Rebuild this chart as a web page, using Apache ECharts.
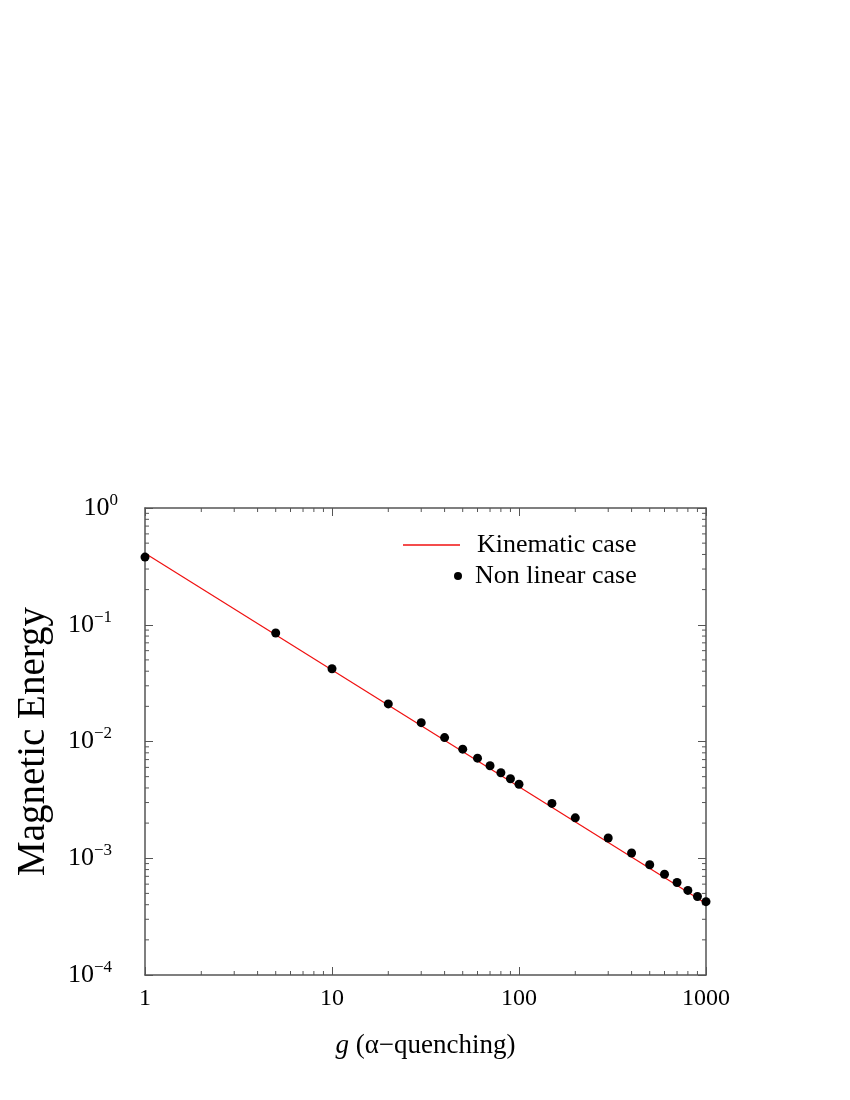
<!DOCTYPE html>
<html>
<head>
<meta charset="utf-8">
<script src="https://cdn.jsdelivr.net/npm/echarts@6/dist/echarts.min.js"></script>
<style>
  html, body { margin: 0; padding: 0; background: #fff; }
  #chart { width: 850px; height: 1100px; }
</style>
</head>
<body>
<div id="chart"></div>
<script>
  // values
  const gValues = [1, 5, 10, 20, 30, 40, 50, 60, 70, 80, 90, 100, 150, 200, 300, 400, 500, 600, 700, 800, 900, 1000];
  const nonLinear = [0.38, 0.085, 0.042, 0.021, 0.0145, 0.0108, 0.0086, 0.0072, 0.0062, 0.0054, 0.0048, 0.0043,
    0.00295, 0.00222, 0.00149, 0.00111, 0.00088, 0.00073, 0.00062, 0.00053, 0.00047, 0.000425];
  // kinematic line: straight in log-log, ends
  const kinematicG = [1, 1000];
  const kinematic = [0.41, 0.00041];

  // minor tick positions (2..9 in each decade)
  const minorSteps = [2, 3, 4, 5, 6, 7, 8, 9];
  const xDecades = [1, 10, 100];
  const yDecades = [1e-4, 1e-3, 1e-2, 1e-1];

  const xMinor = [];
  xDecades.forEach(d => minorSteps.forEach(s => xMinor.push(d * s)));
  const yMinor = [];
  yDecades.forEach(d => minorSteps.forEach(s => yMinor.push(d * s)));

  const FONT = 'Liberation Serif';
  const AXIS_COLOR = '#555';

  const chart = echarts.init(document.getElementById('chart'));

  // 10^n labels, negative exponents sit a little further left (like gnuplot)
  const supLabel = v => {
    const e = Math.round(Math.log10(v));
    if (e === 0) return '{b|10}{e|0}';
    return '{b|10}{n|' + '\u2212' + (-e) + '}';
  };

  const tickSeries = (data, isX) => ({
    type: 'custom',
    silent: true,
    clip: false,
    xAxisIndex: 0,
    yAxisIndex: 0,
    data: data,
    renderItem: (params, api) => {
      const cs = params.coordSys;
      const len = 4;
      const style = { stroke: AXIS_COLOR, lineWidth: 1 };
      if (isX) {
        const p = api.coord([api.value(0), 1]);
        const b = cs.y + cs.height;
        return {
          type: 'group',
          children: [
            { type: 'line', shape: { x1: p[0], y1: b, x2: p[0], y2: b - len }, style },
            { type: 'line', shape: { x1: p[0], y1: cs.y, x2: p[0], y2: cs.y + len }, style }
          ]
        };
      }
      const p = api.coord([1, api.value(1)]);
      const r = cs.x + cs.width;
      return {
        type: 'group',
        children: [
          { type: 'line', shape: { x1: cs.x, y1: p[1], x2: cs.x + len, y2: p[1] }, style },
          { type: 'line', shape: { x1: r, y1: p[1], x2: r - len, y2: p[1] }, style }
        ]
      };
    }
  });

  const hiddenAxisCommon = {
    axisLine: { show: true, lineStyle: { color: AXIS_COLOR, width: 1.5 } },
    axisTick: { show: true, inside: true, length: 8, lineStyle: { color: AXIS_COLOR, width: 1 } },
    axisLabel: { show: false },
    splitLine: { show: false }
  };

  const option = {
    backgroundColor: '#fff',
    animation: false,
    textStyle: { fontFamily: FONT },
    grid: { left: 145, right: 144, top: 508, bottom: 125, containLabel: false },
    legend: [
      {
        data: [{ name: 'Kinematic case', icon: 'rect' }],
        left: 398, top: 527,
        itemWidth: 57, itemHeight: 1.3,
        textStyle: { fontFamily: FONT, fontSize: 26, color: '#000', padding: [0, 0, 0, 12] }
      },
      {
        data: [{ name: 'Non linear case', icon: 'circle' }],
        left: 449, top: 558,
        itemWidth: 8, itemHeight: 8,
        textStyle: { fontFamily: FONT, fontSize: 26, color: '#000', padding: [0, 0, 0, 8] }
      }
    ],
    xAxis: [
      {
        type: 'log', logBase: 10, min: 1, max: 1000,
        position: 'bottom',
        name: '{i|g} (\u03b1\u2212quenching)',
        nameLocation: 'middle',
        nameGap: 57,
        nameTextStyle: {
          fontFamily: FONT, fontSize: 27, color: '#000',
          rich: { i: { fontFamily: FONT, fontSize: 27, fontStyle: 'italic', color: '#000' } }
        },
        axisLine: { show: true, lineStyle: { color: AXIS_COLOR, width: 1.5 } },
        axisTick: { show: true, inside: true, length: 8, lineStyle: { color: AXIS_COLOR, width: 1 } },
        axisLabel: {
          margin: 12, fontFamily: FONT, fontSize: 24, color: '#000',
          formatter: v => String(Math.round(v))
        },
        splitLine: { show: false }
      },
      Object.assign({ type: 'log', logBase: 10, min: 1, max: 1000, position: 'top' }, hiddenAxisCommon)
    ],
    yAxis: [
      {
        type: 'log', logBase: 10, min: 1e-4, max: 1,
        position: 'left',
        name: 'Magnetic Energy',
        nameLocation: 'middle',
        nameGap: 92,
        nameTextStyle: { fontFamily: FONT, fontSize: 39, color: '#000' },
        axisLine: { show: true, lineStyle: { color: AXIS_COLOR, width: 1.5 } },
        axisTick: { show: true, inside: true, length: 8, lineStyle: { color: AXIS_COLOR, width: 1 } },
        axisLabel: {
          margin: 27, color: '#000',
          formatter: supLabel,
          rich: {
            b: { fontFamily: FONT, fontSize: 26, color: '#000' },
            e: { fontFamily: FONT, fontSize: 17, color: '#000', padding: [0, 0, 15, 0] },
            n: { fontFamily: FONT, fontSize: 17, color: '#000', padding: [0, 6, 15, 0] }
          }
        },
        splitLine: { show: false }
      },
      Object.assign({ type: 'log', logBase: 10, min: 1e-4, max: 1, position: 'right' }, hiddenAxisCommon)
    ],
    series: [
      tickSeries(xMinor.map(v => [v, 1]), true),
      tickSeries(yMinor.map(v => [1, v]), false),
      {
        name: 'Kinematic case',
        type: 'line',
        data: kinematicG.map((g, i) => [g, kinematic[i]]),
        symbol: 'none',
        lineStyle: { color: '#f01010', width: 1.2 },
        itemStyle: { color: '#f01010' },
        z: 3
      },
      {
        name: 'Non linear case',
        type: 'scatter',
        data: gValues.map((g, i) => [g, nonLinear[i]]),
        symbol: 'circle',
        symbolSize: 9,
        clip: false,
        itemStyle: { color: '#000', opacity: 1 },
        z: 4
      }
    ]
  };

  chart.setOption(option);
</script>
</body>
</html>
